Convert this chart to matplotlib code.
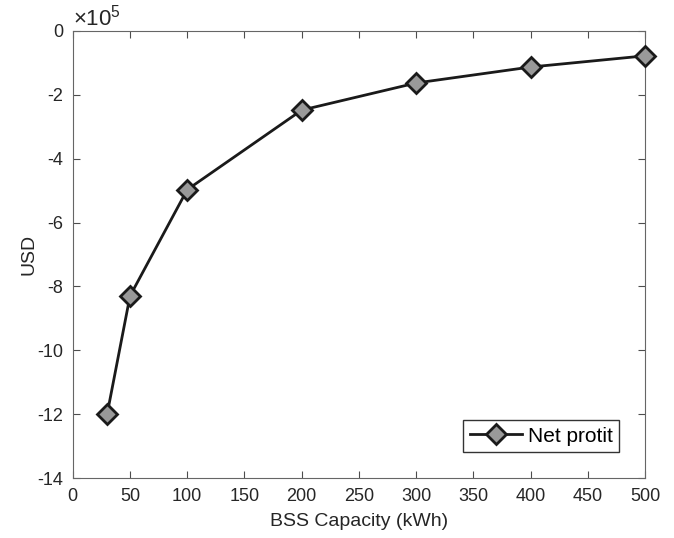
import matplotlib
matplotlib.use("Agg")
import matplotlib.pyplot as plt
import numpy as np

plt.rcParams["font.family"] = ["Liberation Sans", "DejaVu Sans"]
plt.rcParams["axes.unicode_minus"] = False
plt.rcParams["mathtext.fontset"] = "custom"
plt.rcParams["mathtext.rm"] = "Liberation Sans"
plt.rcParams["mathtext.it"] = "Liberation Sans"

capacity = [30, 50, 100, 200, 300, 400, 500]
net_profit = [-12.0, -8.3, -4.97, -2.48, -1.63, -1.13, -0.78]  # x 1e5 USD
xticks = list(range(0, 501, 50))
yticks = list(range(-14, 1, 2))

fig = plt.figure(figsize=(6.74, 5.38), dpi=100)
ax = fig.add_axes([0.108, 0.1115, 0.849, 0.831])
axcol = "#4d4d4d"
ax.plot(capacity, net_profit, color="#1a1a1a", lw=2, marker="D", ms=10,
        mfc="#999999", mec="#1a1a1a", mew=2, label="Net protit", clip_on=False,
        zorder=5)
ax.set_xlim(0, 500)
ax.set_ylim(-14, 0)
ax.set_xticks(xticks)
ax.set_yticks(yticks)
ax.tick_params(direction="in", top=True, right=True, labelsize=13, colors=axcol,
               labelcolor="#262626", length=5, pad=7)
for s in ax.spines.values():
    s.set_color("#666666")
ax.set_xlabel("BSS Capacity (kWh)", fontsize=14, color="#262626", labelpad=6)
ax.set_ylabel("USD", fontsize=14, color="#262626", labelpad=0)
ax.text(0.0, 1.0, r"$\times10^5$", transform=ax.transAxes, fontsize=16,
        color="#262626", va="bottom", ha="left")
leg = ax.legend(loc="lower right", fontsize=15, fancybox=False, framealpha=1,
                edgecolor="#333333", handlelength=2.5, borderaxespad=1.25,
                borderpad=0.3, handletextpad=0.3)
leg.get_frame().set_linewidth(1.0)
fig.savefig("out.png", dpi=100)
